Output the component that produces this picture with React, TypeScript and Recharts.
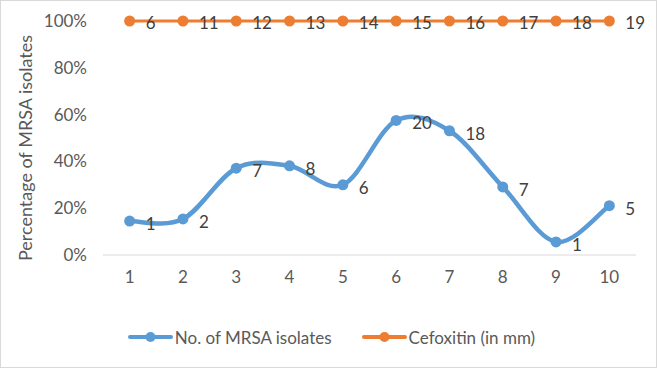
import React from "react";
import { ComposedChart, Line, XAxis, YAxis, Legend, LabelList } from "recharts";

const categories = ["1", "2", "3", "4", "5", "6", "7", "8", "9", "10"];
const mrsaPercent = [0.145, 0.154, 0.371, 0.381, 0.3, 0.575, 0.531, 0.291, 0.056, 0.211];
const mrsaCounts = [1, 2, 7, 8, 6, 20, 18, 7, 1, 5];
const cefoxitinPercent = [1, 1, 1, 1, 1, 1, 1, 1, 1, 1];
const cefoxitinMm = [6, 11, 12, 13, 14, 15, 16, 17, 18, 19];
const yTicks = [0, 0.2, 0.4, 0.6, 0.8, 1];

const data = categories.map((c, i) => ({
  cat: c,
  mrsa: mrsaPercent[i],
  mrsaLabel: mrsaCounts[i],
  cef: cefoxitinPercent[i],
  cefLabel: cefoxitinMm[i],
}));

const BLUE = "#5B9BD5";
const ORANGE = "#ED7D31";
const FONT = "Lato, 'Open Sans', sans-serif";

// smooth line like Excel's "smoothed line" (catmull-rom style bezier)
function smoothCurve(context: any) {
  let pts: [number, number][] = [];
  return {
    areaStart() {},
    areaEnd() {},
    lineStart() {
      pts = [];
    },
    lineEnd() {
      const n = pts.length;
      if (!n) return;
      context.moveTo(pts[0][0], pts[0][1]);
      for (let i = 0; i < n - 1; i++) {
        const p0 = pts[Math.max(i - 1, 0)];
        const p1 = pts[i];
        const p2 = pts[i + 1];
        const p3 = pts[Math.min(i + 2, n - 1)];
        context.bezierCurveTo(
          p1[0] + (p2[0] - p0[0]) / 6,
          p1[1] + (p2[1] - p0[1]) / 6,
          p2[0] - (p3[0] - p1[0]) / 6,
          p2[1] - (p3[1] - p1[1]) / 6,
          p2[0],
          p2[1]
        );
      }
    },
    point(x: number, y: number) {
      pts.push([+x, +y]);
    },
  };
}

function LegendIcon({ color }: { color: string }) {
  return (
    <svg width={45} height={12} style={{ marginRight: 2 }}>
      <line x1={2} y1={6} x2={43} y2={6} stroke={color} strokeWidth={4} strokeLinecap="round" />
      <circle cx={22.5} cy={6} r={5} fill={color} />
    </svg>
  );
}

function renderLegend() {
  const items = [
    { color: BLUE, label: "No. of MRSA isolates" },
    { color: ORANGE, label: "Cefoxitin (in mm)" },
  ];
  return (
    <div style={{ height: 36, display: "flex", justifyContent: "center", alignItems: "center", gap: 30 }}>
      {items.map((it) => (
        <div key={it.label} style={{ display: "flex", alignItems: "center", color: "#595959", fontSize: 17, fontFamily: FONT }}>
          <LegendIcon color={it.color} />
          <span>{it.label}</span>
        </div>
      ))}
    </div>
  );
}

const renderYLabel = () => (
  <text
    x={24}
    y={147}
    transform="rotate(-90 24 147)"
    textAnchor="middle"
    dominantBaseline="central"
    fill="#595959"
    fontSize={18}
    fontFamily={FONT}
  >
    Percentage of MRSA isolates
  </text>
);

export default function App() {
  return (
    <div
      style={{
        position: "absolute",
        top: 0,
        left: 0,
        width: 657,
        height: 368,
        border: "1px solid #d9d9d9",
        boxSizing: "border-box",
        background: "#fff",
      }}
    >
      <ComposedChart width={655} height={366} data={data} margin={{ top: 20, right: 20, bottom: 12, left: 0 }}>
        <XAxis
          dataKey="cat"
          scale="band"
          height={64}
          axisLine={{ stroke: "#d9d9d9", strokeWidth: 1 }}
          tickLine={false}
          tickSize={0}
          tickMargin={16}
          tick={{ fill: "#595959", fontSize: 17, fontFamily: FONT }}
        />
        <YAxis
          width={102}
          domain={[0, 1]}
          ticks={yTicks}
          tickFormatter={(v: number) => `${Math.round(v * 100)}%`}
          axisLine={false}
          tickLine={false}
          tickSize={0}
          tickMargin={16}
          tick={{ fill: "#595959", fontSize: 17, fontFamily: FONT }}
          label={renderYLabel}
        />
        <Legend verticalAlign="bottom" content={renderLegend} wrapperStyle={{ left: 3, width: 655 }} />
        <Line
          dataKey="mrsa"
          name="No. of MRSA isolates"
          type={smoothCurve as any}
          stroke={BLUE}
          strokeWidth={4.5}
          dot={{ r: 5.5, fill: BLUE, stroke: BLUE, strokeWidth: 0 }}
          isAnimationActive={false}
        >
          <LabelList dataKey="mrsaLabel" position="right" offset={16} dy={3} fill="#404040" fontSize={17} fontFamily={FONT} />
        </Line>
        <Line
          dataKey="cef"
          name="Cefoxitin (in mm)"
          type="linear"
          stroke={ORANGE}
          strokeWidth={3}
          dot={{ r: 5.5, fill: ORANGE, stroke: ORANGE, strokeWidth: 0 }}
          isAnimationActive={false}
        >
          <LabelList dataKey="cefLabel" position="right" offset={16} dy={2} fill="#404040" fontSize={17} fontFamily={FONT} />
        </Line>
      </ComposedChart>
    </div>
  );
}
